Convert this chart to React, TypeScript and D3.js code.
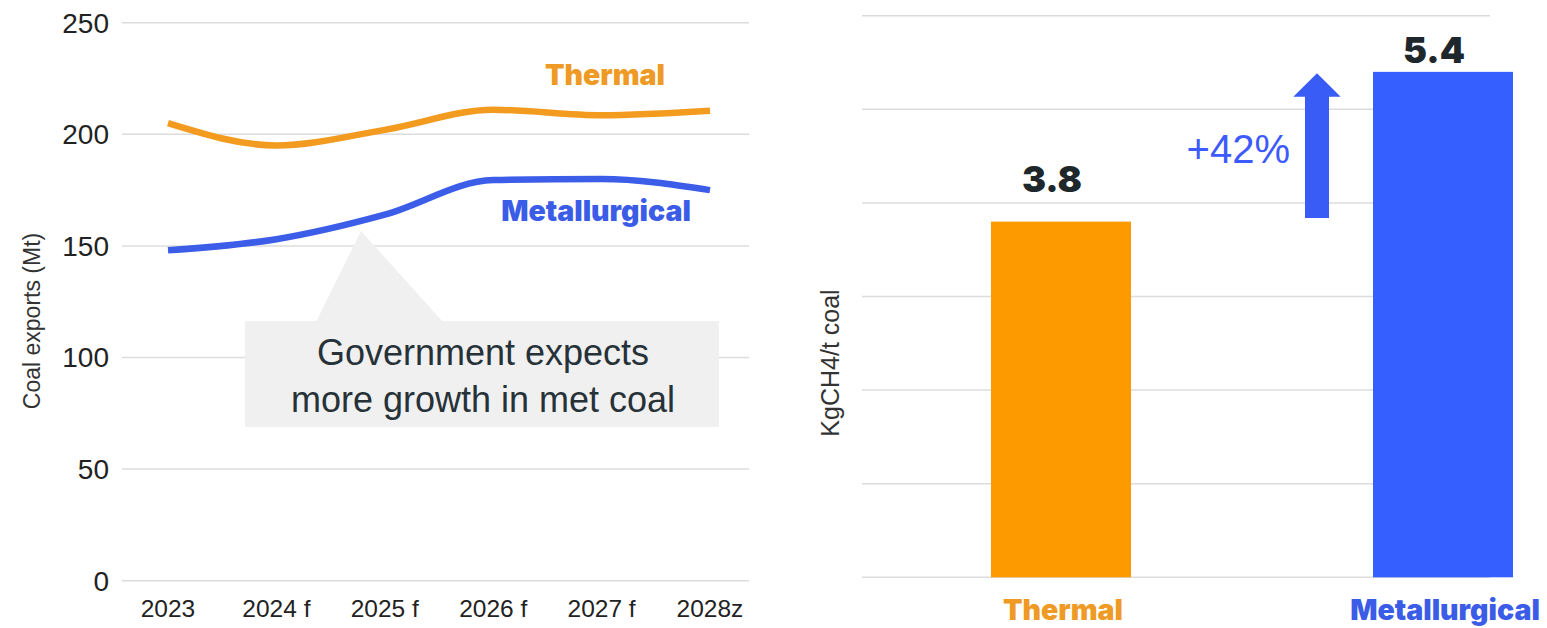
import React from "react";
import * as d3 from "d3";

const years = ["2023", "2024 f", "2025 f", "2026 f", "2027 f", "2028z"];
const thermalExports = [205, 195, 202, 211, 208.5, 210.5];
const metExports = [148, 153, 164, 179.5, 180, 175];
const yTicksLeft = [0, 50, 100, 150, 200, 250];

const barCategories = ["Thermal", "Metallurgical"];
const barValues = [3.8, 5.4];
const barLabels = ["3.8", "5.4"];
const yTicksRight = [0, 1, 2, 3, 4, 5, 6];

const ORANGE_LINE = "#F29B1E";
const BLUE_LINE = "#3B5DE8";
const ORANGE_BAR = "#FD9A00";
const BLUE_BAR = "#355FFF";
const GRID = "#DCDCDC";
const SANS = "'Liberation Sans', Arial, Helvetica, sans-serif";
const BOLD = "Inter, 'Liberation Sans', Arial, sans-serif";

export default function App() {
  const W = 1547;
  const H = 628;

  // Left line chart
  const xL = d3.scalePoint<string>().domain(years).range([168, 710]);
  const yL = d3.scaleLinear().domain([0, 250]).range([580.7, 22.7]);
  const line = d3
    .line<number>()
    .x((_, i) => xL(years[i]) as number)
    .y((d) => yL(d))
    .curve(d3.curveMonotoneX);

  // Right bar chart
  const xR = d3.scalePoint<string>().domain(barCategories).range([1061, 1443]);
  const yR = d3.scaleLinear().domain([0, 6]).range([577.3, 15.7]);
  const barW = 140;

  return (
    <svg
      width={W}
      height={H}
      style={{ position: "absolute", left: 0, top: 0, background: "#fff" }}
    >
      <rect x={0} y={0} width={W} height={H} fill="#fff" />
      {/* Left gridlines */}
      {yTicksLeft.map((t) => (
        <g key={"gl" + t}>
          <line x1={122} x2={749} y1={yL(t)} y2={yL(t)} stroke={GRID} strokeWidth={1.5} />
          <text
            x={109}
            y={yL(t)}
            dy="0.35em"
            textAnchor="end"
            fontFamily={SANS}
            fontSize={28}
            fill="#222"
          >
            {t}
          </text>
        </g>
      ))}
      {years.map((y) => (
        <text
          key={"xl" + y}
          x={xL(y)}
          y={617}
          textAnchor="middle"
          fontFamily={SANS}
          fontSize={24.5}
          fill="#222"
        >
          {y}
        </text>
      ))}
      <text
        transform="translate(40,321) rotate(-90)"
        textAnchor="middle"
        fontFamily={SANS}
        fontSize={23}
        fill="#333"
      >
        Coal exports (Mt)
      </text>

      {/* Callout */}
      <path d="M361,231 L316,322 L443,322 Z" fill="#F0F0F0" />
      <rect x={245} y={321} width={474} height={106} fill="#F0F0F0" />
      <text x={483} y={365} textAnchor="middle" fontFamily={SANS} fontSize={36} fill="#263238">
        Government expects
      </text>
      <text x={483} y={412} textAnchor="middle" fontFamily={SANS} fontSize={36} fill="#263238">
        more growth in met coal
      </text>

      {/* Lines */}
      <path d={line(thermalExports) || ""} fill="none" stroke={ORANGE_LINE} strokeWidth={6.5} />
      <path d={line(metExports) || ""} fill="none" stroke={BLUE_LINE} strokeWidth={6.5} />
      <text x={605} y={85} textAnchor="middle" fontFamily={BOLD} fontWeight={900} fontSize={28.5} fill="#EE9A25">
        Thermal
      </text>
      <text x={596} y={221} textAnchor="middle" fontFamily={BOLD} fontWeight={900} fontSize={28.5} fill="#3A5CE6">
        Metallurgical
      </text>

      {/* Right gridlines */}
      {yTicksRight.map((t) => (
        <line key={"gr" + t} x1={862} x2={1490} y1={yR(t)} y2={yR(t)} stroke={GRID} strokeWidth={1.5} />
      ))}
      <text
        transform="translate(839,363) rotate(-90)"
        textAnchor="middle"
        fontFamily={SANS}
        fontSize={25}
        fill="#333"
      >
        KgCH4/t coal
      </text>

      {barCategories.map((c, i) => {
        const top = yR(barValues[i]);
        const labelY = Math.max(top - 30, 63);
        return (
          <g key={"b" + c}>
            <rect
              x={(xR(c) as number) - barW / 2}
              y={top}
              width={barW}
              height={yR(0) - top}
              fill={i === 0 ? ORANGE_BAR : BLUE_BAR}
            />
            <text
              x={(xR(c) as number) - 9}
              y={labelY}
              textAnchor="middle"
              fontFamily={BOLD}
              fontWeight={900}
              fontSize={36}
              fill="#1E272C"
            >
              {barLabels[i]}
            </text>
            <text
              x={(xR(c) as number) + 2}
              y={620}
              textAnchor="middle"
              fontFamily={BOLD}
              fontWeight={900}
              fontSize={28.5}
              fill={i === 0 ? "#EE9A25" : "#3A5CE6"}
            >
              {c}
            </text>
          </g>
        );
      })}

      {/* Arrow */}
      <path
        d="M1305,218 L1305,96.7 L1293.3,96.7 L1317,73.3 L1340.7,96.7 L1329,96.7 L1329,218 Z"
        fill="#3A5CF6"
      />
      <text x={1290} y={163} textAnchor="end" fontFamily={SANS} fontSize={40} fill="#3D5AFE">
        +42%
      </text>
    </svg>
  );
}
